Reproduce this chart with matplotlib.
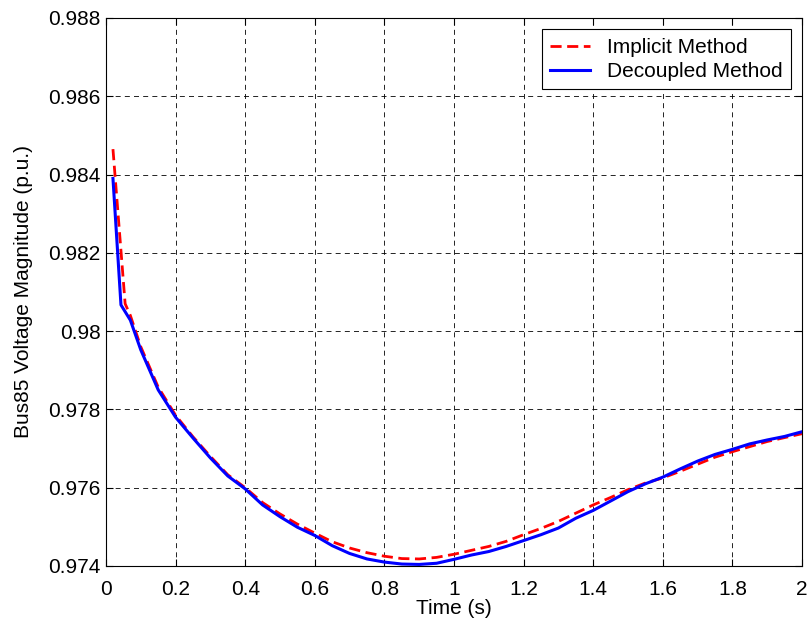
import matplotlib
matplotlib.use("Agg")
import matplotlib.pyplot as plt
import numpy as np

plt.rcParams['font.family'] = ['Liberation Sans', 'DejaVu Sans']

t_blue = [0.02, 0.043, 0.07, 0.10, 0.15, 0.20, 0.25, 0.30, 0.35, 0.40, 0.45, 0.50,
          0.55, 0.60, 0.65, 0.70, 0.75, 0.80, 0.85, 0.90, 0.95, 1.00, 1.05, 1.10,
          1.15, 1.20, 1.25, 1.30, 1.35, 1.40, 1.45, 1.50, 1.55, 1.60, 1.65, 1.70,
          1.75, 1.80, 1.85, 1.90, 1.95, 2.00]
v_blue = [0.98390, 0.98067, 0.98028, 0.97952, 0.97850, 0.97780, 0.97727, 0.97676,
          0.97630, 0.97597, 0.97556, 0.97526, 0.97499, 0.97478, 0.97452, 0.97432,
          0.97418, 0.97410, 0.97405, 0.97404, 0.97407, 0.97417, 0.97428, 0.97437,
          0.97450, 0.97465, 0.97480, 0.97497, 0.97522, 0.97542, 0.97566, 0.97590,
          0.97610, 0.97627, 0.97648, 0.97668, 0.97685, 0.97698, 0.97712, 0.97722,
          0.97731, 0.97743]

t_red = [0.02, 0.055, 0.07, 0.10, 0.15, 0.20, 0.25, 0.30, 0.35, 0.40, 0.45, 0.50,
         0.55, 0.60, 0.65, 0.70, 0.75, 0.80, 0.85, 0.90, 0.95, 1.00, 1.05, 1.10,
         1.15, 1.20, 1.25, 1.30, 1.35, 1.40, 1.45, 1.50, 1.55, 1.60, 1.65, 1.70,
         1.75, 1.80, 1.85, 1.90, 1.95, 2.00]
v_red = [0.98465, 0.98070, 0.98040, 0.97960, 0.97857, 0.97785, 0.97730, 0.97680,
         0.97633, 0.97600, 0.97562, 0.97533, 0.97507, 0.97484, 0.97462, 0.97446,
         0.97434, 0.97425, 0.97419, 0.97418, 0.97422, 0.97430, 0.97440, 0.97450,
         0.97463, 0.97480, 0.97496, 0.97514, 0.97535, 0.97556, 0.97575, 0.97595,
         0.97612, 0.97625, 0.97642, 0.97660, 0.97678, 0.97692, 0.97705, 0.97718,
         0.97728, 0.97738]

x_ticks = [0, 0.2, 0.4, 0.6, 0.8, 1, 1.2, 1.4, 1.6, 1.8, 2]
x_labels = ['0', '0.2', '0.4', '0.6', '0.8', '1', '1.2', '1.4', '1.6', '1.8', '2']
y_ticks = [0.974, 0.976, 0.978, 0.98, 0.982, 0.984, 0.986, 0.988]
y_labels = ['0.974', '0.976', '0.978', '0.98', '0.982', '0.984', '0.986', '0.988']

fig = plt.figure(figsize=(8.1, 6.27), dpi=100)
ax = fig.add_axes([106/810, 61/627, 696/810, 548/627])

ax.plot(t_red, v_red, color='red', linestyle=(0, (4, 2)), linewidth=2.0, label='Implicit Method')
ax.plot(t_blue, v_blue, color='blue', linestyle='-', linewidth=2.2, label='Decoupled Method')

ax.set_xlim(0, 2)
ax.set_ylim(0.974, 0.988)
ax.set_xticks(x_ticks)
ax.set_xticklabels(x_labels)
ax.set_yticks(y_ticks)
ax.set_yticklabels(y_labels)
ax.tick_params(direction='in', top=True, right=True, length=5, width=0.8, labelsize=15)
ax.tick_params(axis='x', pad=10)
ax.tick_params(axis='y', pad=4)
ax.grid(True, color='black', linestyle=(0, (6, 5)), linewidth=0.6)
for s in ax.spines.values():
    s.set_linewidth(0.8)
ax.set_xlabel('Time (s)', fontsize=15, labelpad=0)
ax.set_ylabel('Bus85 Voltage Magnitude (p.u.)', fontsize=15, labelpad=11)

leg = ax.legend(loc='upper right', fontsize=15, fancybox=False, framealpha=1,
                edgecolor='black', borderaxespad=0.55, handlelength=1.9,
                handletextpad=0.8, labelspacing=0.25, borderpad=0.4)
leg.get_frame().set_linewidth(0.8)

fig.savefig('out.png', dpi=100)
